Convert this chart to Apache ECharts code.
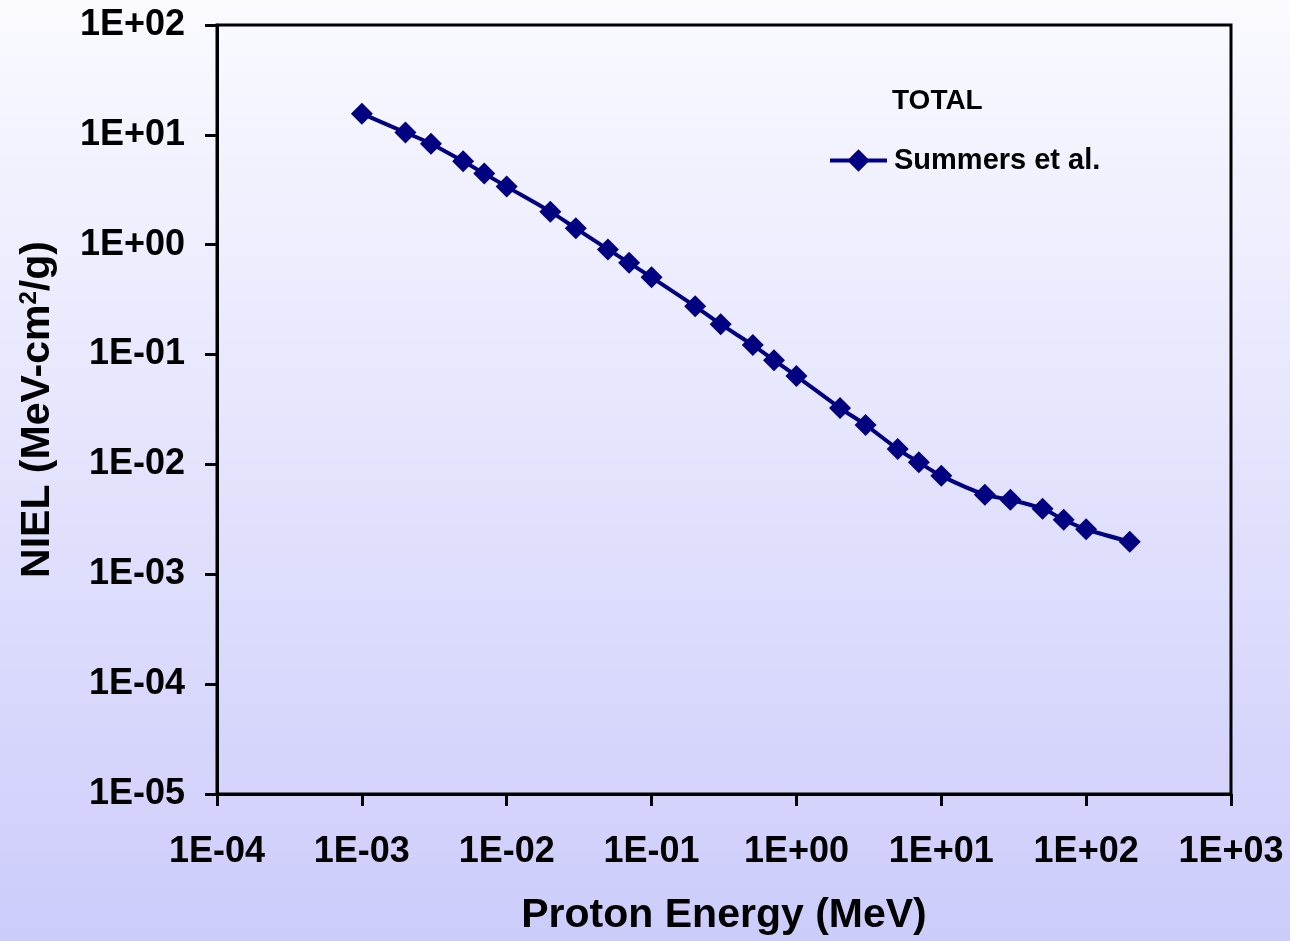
<!DOCTYPE html>
<html>
<head>
<meta charset="utf-8">
<style>
html,body{margin:0;padding:0;}
#chart{width:1290px;height:941px;}
</style>
<script src="https://cdn.jsdelivr.net/npm/echarts@6/dist/echarts.min.js"></script>
</head>
<body>
<div id="chart"></div>
<script>
// Proton energy (MeV)
var energy = [1e-3, 2e-3, 3e-3, 5e-3, 7e-3, 1e-2, 2e-2, 3e-2, 5e-2, 7e-2,
              0.1, 0.2, 0.3, 0.5, 0.7, 1, 2, 3, 5, 7,
              10, 20, 30, 50, 70, 100, 200];
// NIEL (MeV-cm2/g), Summers et al.
var niel = [15.6, 10.5, 8.31, 5.74, 4.44, 3.38, 2.00, 1.41, 0.906, 0.684,
            0.505, 0.275, 0.189, 0.122, 0.0889, 0.0637, 0.0326, 0.0229, 0.0138, 0.01045,
            0.00787, 0.0053, 0.00477, 0.00395, 0.00314, 0.00257, 0.00198];
var seriesName = 'Summers et al.';
var legendTitle = 'TOTAL';
var xTitle = 'Proton Energy (MeV)';
var yTitle = 'NIEL (MeV-cm{sup|2}/g)';
var xMin = 1e-4, xMax = 1e3;
var yMin = 1e-5, yMax = 1e2;

function expFmt(v) {
  var e = Math.round(Math.log10(v));
  var s = e < 0 ? '-' : '+';
  var a = Math.abs(e);
  return '1E' + s + (a < 10 ? '0' : '') + a;
}

var chart = echarts.init(document.getElementById('chart'));
var pts = energy.map(function (x, i) { return [x, niel[i]]; });
var FONT = '"Liberation Sans", Arial, sans-serif';

chart.setOption({
  backgroundColor: {
    type: 'linear', x: 0, y: 0, x2: 0, y2: 1,
    colorStops: [{offset: 0, color: '#fafaff'}, {offset: 1, color: '#ccccfb'}]
  },
  title: {
    text: legendTitle, left: 887, top: 82,
    textStyle: {fontFamily: FONT, fontWeight: 'bold', fontSize: 28, color: '#000'}
  },
  legend: {
    left: 828, top: 146, padding: 0,
    itemWidth: 57, itemHeight: 28,
    lineStyle: {width: 4},
    textStyle: {fontFamily: FONT, fontWeight: 'bold', fontSize: 29, color: '#000', padding: [0,0,0,2]},
    data: [seriesName]
  },
  grid: {
    left: 217, right: 59, top: 25, bottom: 145,
    show: true, borderColor: '#000', borderWidth: 3, backgroundColor: 'transparent'
  },
  xAxis: {
    type: 'log', logBase: 10, min: xMin, max: xMax,
    name: xTitle, nameLocation: 'middle', nameGap: 101,
    nameTextStyle: {fontFamily: FONT, fontWeight: 'bold', fontSize: 41, color: '#000'},
    axisLine: {lineStyle: {color: '#000', width: 3}},
    axisTick: {show: true, inside: false, length: 12, lineStyle: {color: '#000', width: 3}},
    minorTick: {show: false},
    splitLine: {show: false},
    axisLabel: {
      margin: 40, formatter: expFmt, showMinLabel: true, showMaxLabel: true,
      fontFamily: FONT, fontWeight: 'bold', fontSize: 36, color: '#000'
    }
  },
  yAxis: {
    type: 'log', logBase: 10, min: yMin, max: yMax,
    name: yTitle, nameLocation: 'middle', nameGap: 159, nameRotate: 90,
    nameTextStyle: {
      fontFamily: FONT, fontWeight: 'bold', fontSize: 41, color: '#000',
      rich: {sup: {fontFamily: FONT, fontWeight: 'bold', fontSize: 24, verticalAlign: 'top', color: '#000', padding: [0,0,14,0]}}
    },
    axisLine: {lineStyle: {color: '#000', width: 3}},
    axisTick: {show: true, inside: false, length: 12, lineStyle: {color: '#000', width: 3}},
    splitLine: {show: false},
    axisLabel: {
      margin: 32, formatter: expFmt, showMinLabel: true, showMaxLabel: true,
      fontFamily: FONT, fontWeight: 'bold', fontSize: 36, color: '#000'
    }
  },
  series: [{
    name: seriesName, type: 'line', data: pts,
    smooth: 0.3,
    symbol: 'diamond', symbolSize: 22,
    lineStyle: {color: '#000080', width: 4},
    itemStyle: {color: '#000080'},
    animation: false
  }]
});
</script>
</body>
</html>
